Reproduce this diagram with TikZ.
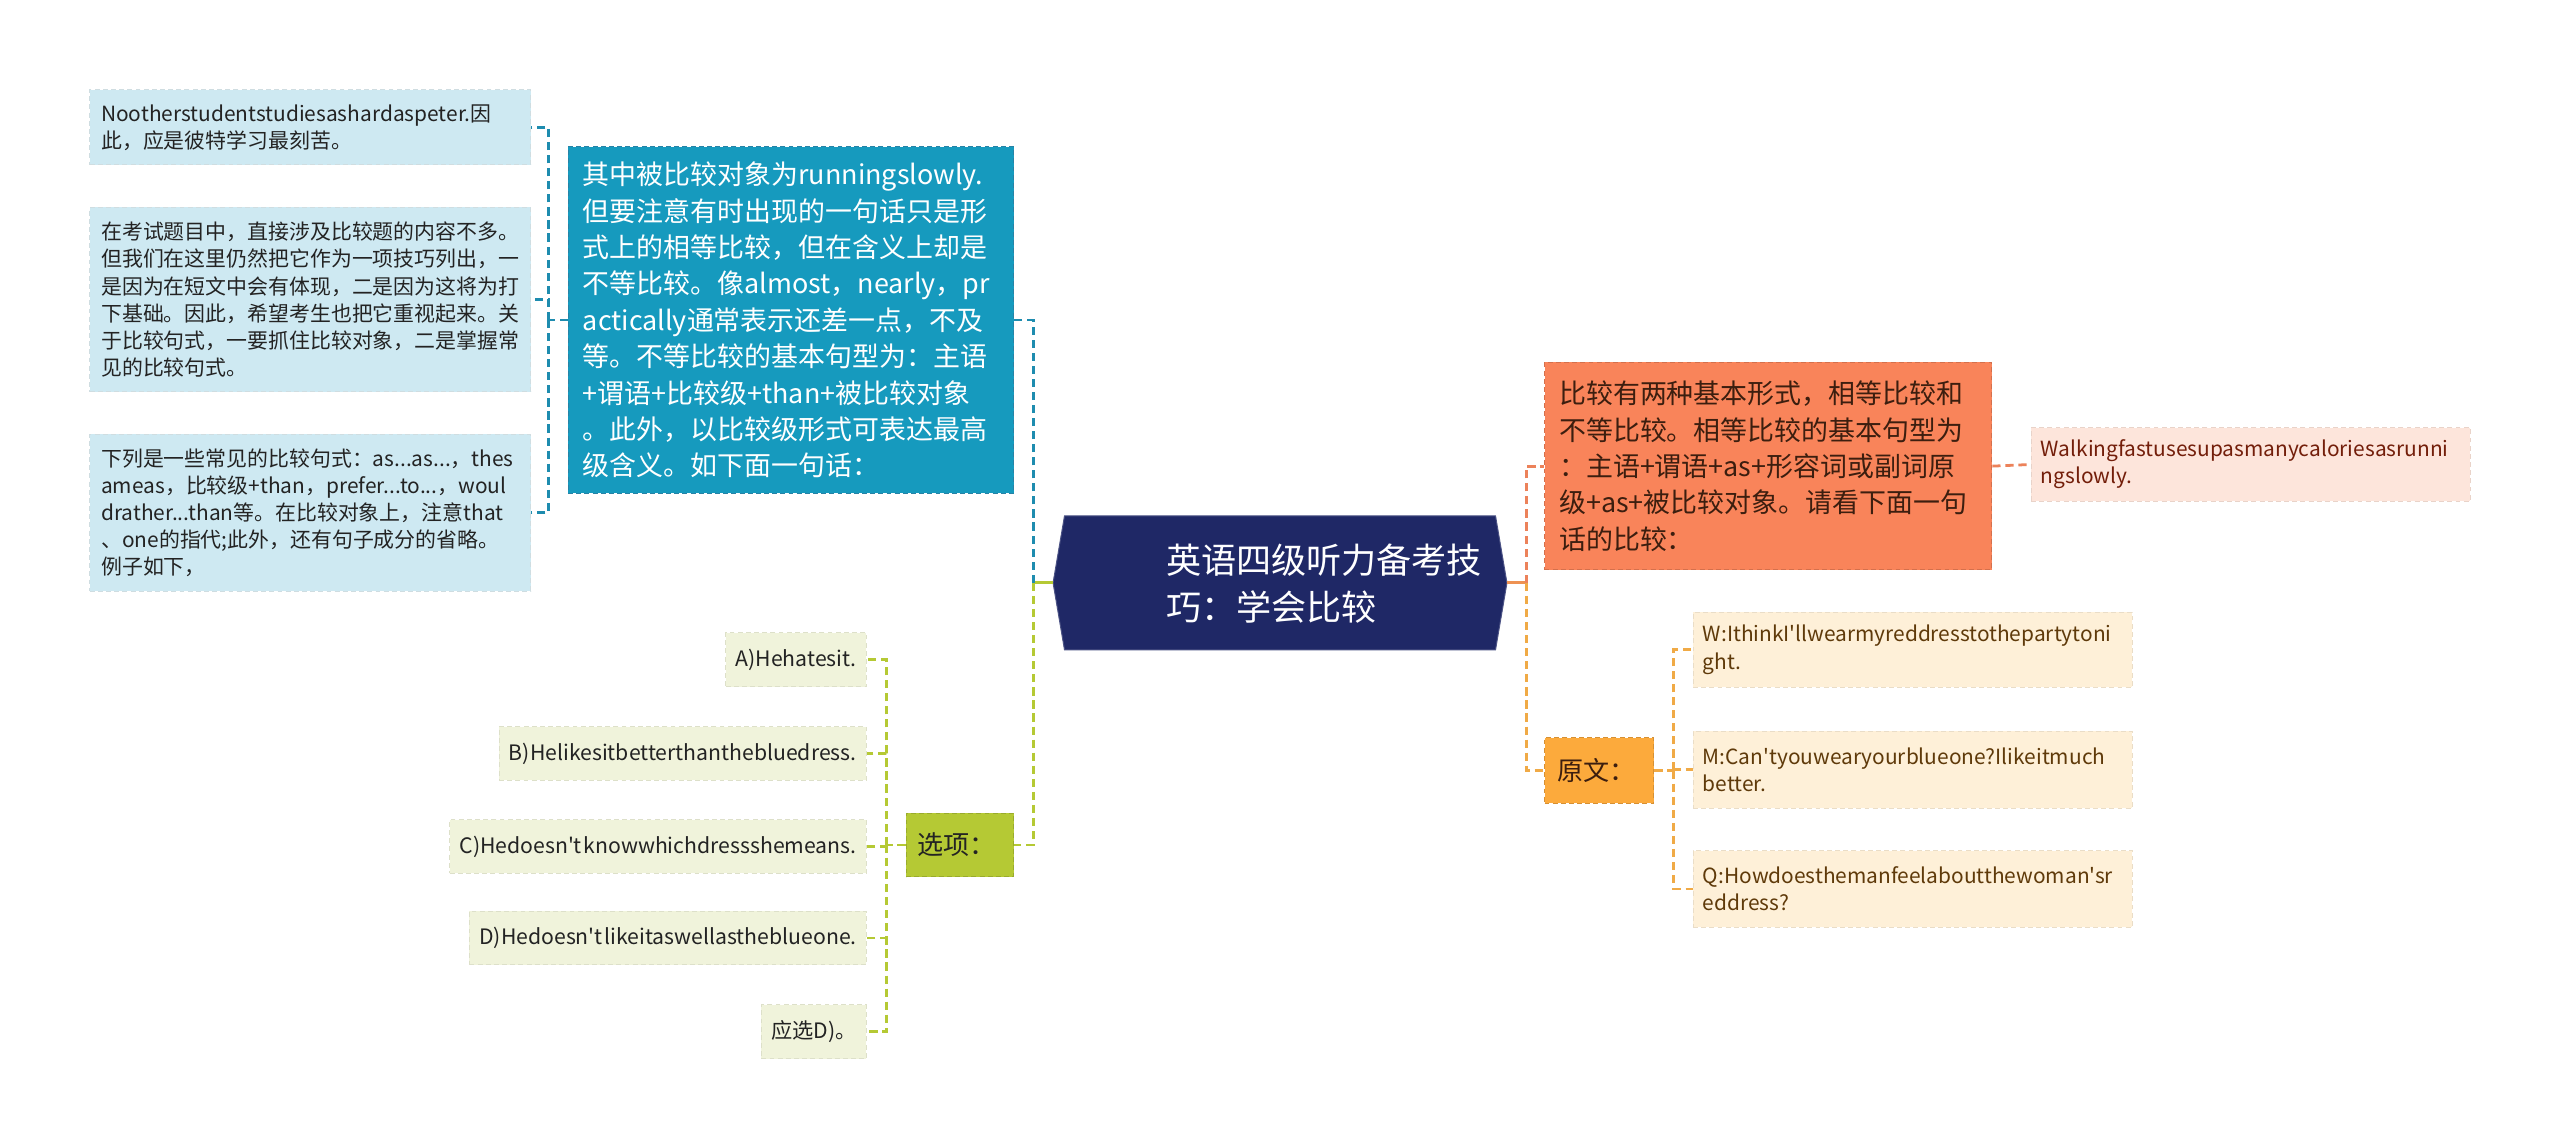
\documentclass[tikz,border=0pt]{standalone}
\usepackage{fontspec}
\setmainfont{Noto Sans CJK SC}[Ligatures=TeXOff]
\definecolor{navy}{RGB}{31,40,102}
\definecolor{bluebox}{RGB}{22,154,190}
\definecolor{bluebd}{RGB}{40,130,165}
\definecolor{ltblue}{RGB}{206,233,242}
\definecolor{blueln}{RGB}{30,140,175}
\definecolor{orbox}{RGB}{249,132,90}
\definecolor{orln}{RGB}{236,130,90}
\definecolor{ortxt}{RGB}{60,30,15}
\definecolor{pinkbox}{RGB}{253,229,219}
\definecolor{pinktxt}{RGB}{115,30,10}
\definecolor{ylbox}{RGB}{252,170,60}
\definecolor{ylln}{RGB}{240,170,70}
\definecolor{creambox}{RGB}{254,240,216}
\definecolor{creamtxt}{RGB}{95,58,10}
\definecolor{grbox}{RGB}{181,201,52}
\definecolor{grln}{RGB}{181,201,52}
\definecolor{ltgr}{RGB}{240,243,219}
\definecolor{darktxt}{RGB}{35,35,35}
\tikzset{
  bx/.style={rectangle, inner ysep=0pt, align=left, line width=0.6pt, dash pattern=on 3pt off 2pt},
  smallfont/.style={font=\fontsize{12.8}{16.6}\selectfont},
  bigfont/.style={font=\fontsize{16.5}{22.3}\selectfont},
  optfont/.style={font=\fontsize{13}{16}\selectfont},
  lblue/.style={bx, smallfont, fill=ltblue, draw=ltblue!85!black!60!white, text=darktxt, minimum width=270, inner xsep=7, text width=256},
  cream/.style={bx, smallfont, fill=creambox, draw=creambox!92!black, text=creamtxt, minimum width=269, inner xsep=6, text width=257},
  opt/.style={bx, optfont, fill=ltgr, draw=ltgr!92!black, text=darktxt, minimum height=33, inner xsep=6, anchor=east},
  conn/.style={line width=1.7pt, dash pattern=on 5pt off 3pt},
}
\begin{document}
\begin{tikzpicture}[x=1pt,y=-1pt]
\useasboundingbox[fill=white] (0,0) rectangle (1568,701);

% centre
\path[fill=navy, draw=navy!80!white, line width=0.6pt] (645,357) -- (652,316) -- (916,316) -- (923,357) -- (916,398) -- (652,398) -- cycle;
\coordinate (Cl) at (645,357);
\coordinate (Cr) at (923,357);
\node[anchor=west, inner sep=0pt, align=left, text=white, font=\fontsize{21.5}{29}\selectfont] (title) at (714,357.5) {英语四级听力备考技\\巧：学会比较};

% left upper branch
\node[bx, bigfont, fill=bluebox, draw=bluebd, text=white, minimum width=273, minimum height=212, inner xsep=9, text width=255] (blue) at (484.5,196) {其中被比较对象为runningslowly.\\但要注意有时出现的一句话只是形\\式上的相等比较，但在含义上却是\\不等比较。像almost，nearly，pr\\actically通常表示还差一点，不及\\等。不等比较的基本句型为：主语\\+谓语+比较级+than+被比较对象\\。此外，以比较级形式可表达最高\\级含义。如下面一句话：};

\node[lblue, minimum height=46] (L1) at (190,78) {Nootherstudentstudiesashardaspeter.因\\此，应是彼特学习最刻苦。};
\node[lblue, minimum height=113] (L2) at (190,183.5) {在考试题目中，直接涉及比较题的内容不多。\\但我们在这里仍然把它作为一项技巧列出，一\\是因为在短文中会有体现，二是因为这将为打\\下基础。因此，希望考生也把它重视起来。关\\于比较句式，一要抓住比较对象，二是掌握常\\见的比较句式。};
\node[lblue, minimum height=96] (L3) at (190,314) {下列是一些常见的比较句式：as...as...，thes\\ameas，比较级+than，prefer...to...，woul\\drather...than等。在比较对象上，注意that\\、one的指代;此外，还有句子成分的省略。\\例子如下，};

% left lower branch
\node[bx, fill=grbox, draw=grbox!85!black, text=darktxt, font=\fontsize{16}{20}\selectfont, minimum width=66, minimum height=39, inner xsep=7, text width=52] (xx) at (588,517.5) {选项：};
\node[opt] (A) at (531,404) {A)Hehatesit.};
\node[opt] (B) at (531,461.5) {B)Helikesitbetterthanthebluedress.};
\node[opt] (C) at (531,518.5) {C)Hedoesn't\kern1pt knowwhichdressshemeans.};
\node[opt] (D) at (531,574.5) {D)Hedoesn't\kern1pt likeitaswellastheblueone.};
\node[opt] (E) at (531,632) {应选D)。};

% right upper branch
\node[bx, bigfont, fill=orbox, draw=orbox!85!black, text=ortxt, minimum width=274, minimum height=127, inner xsep=9, text width=256] (orange) at (1083,285.5) {比较有两种基本形式，相等比较和\\不等比较。相等比较的基本句型为\\：主语+谓语+as+形容词或副词原\\级+as+被比较对象。请看下面一句\\话的比较：};
\node[bx, smallfont, fill=pinkbox, draw=pinkbox!92!black, text=pinktxt, minimum width=269, minimum height=45, inner xsep=6, text width=257] (walk) at (1378.5,284.5) {Walkingfastusesupasmanycaloriesasrunni\\ngslowly.};

% right lower branch
\node[bx, fill=ylbox, draw=ylbox!85!black, text=ortxt, font=\fontsize{16}{20}\selectfont, minimum width=67, minimum height=40, inner xsep=8, text width=51] (yw) at (979.5,472) {原文：};
\node[cream, minimum height=46] (W) at (1171.5,398) {W:IthinkI'llwearmyreddresstothepartytoni\\ght.};
\node[cream, minimum height=47] (M) at (1171.5,471.5) {M:Can'tyouwearyourblueone?Ilikeitmuch\\better.};
\node[cream, minimum height=47] (Q) at (1171.5,544.5) {Q:Howdoesthemanfeelaboutthewoman'sr\\eddress?};

% connectors from centre
\draw[grln, line width=1.7pt] (Cl) -- (633,357) coordinate (jl);
\draw[orln!60!ylln, line width=1.7pt] (Cr) -- (935,357) coordinate (jr);
\draw[conn, blueln] (jl) |- (blue.east);
\draw[conn, grln] (jl) |- (xx.east);
\draw[conn, orln] (jr) |- (orange.west);
\draw[conn, ylln] (jr) |- (yw.west);

% blue box children
\draw[conn, blueln] (blue.west) -- (336,196) coordinate (bj);
\foreach \n in {L1,L2,L3} \draw[conn, blueln] (bj) |- (\n.east);

% options children
\draw[conn, grln] (xx.west) -- (543,517.5) coordinate (gj);
\foreach \n in {A,B,C,D,E} \draw[conn, grln] (gj) |- (\n.east);

% orange child
\draw[conn, orln] (orange.east) -- (walk.west);

% yuanwen children
\draw[conn, ylln] (yw.east) -- (1025,472) coordinate (yj);
\foreach \n in {W,M,Q} \draw[conn, ylln] (yj) |- (\n.west);
\end{tikzpicture}
\end{document}
